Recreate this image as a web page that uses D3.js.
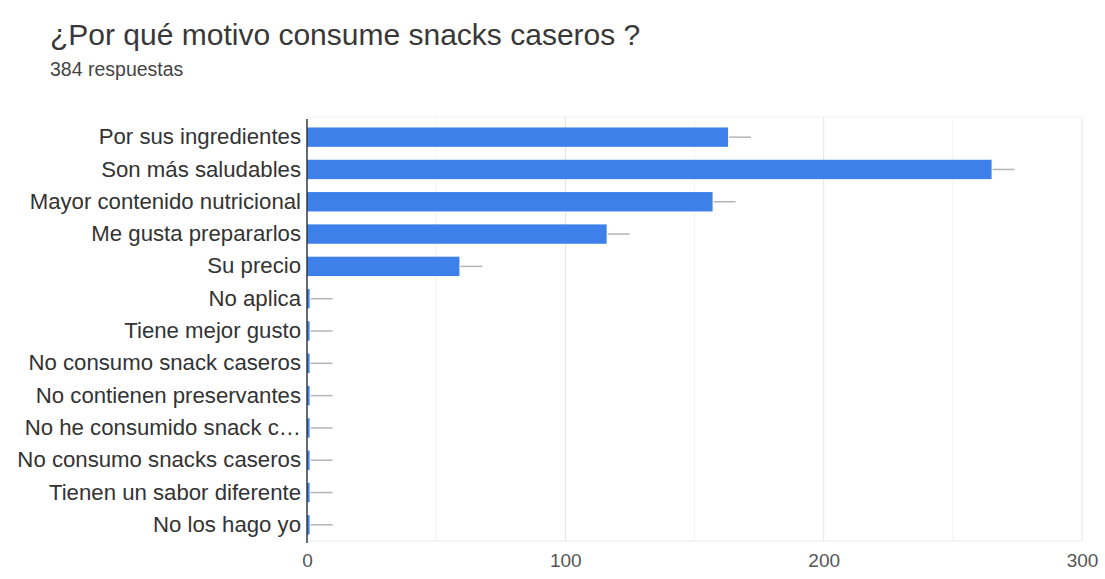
<!DOCTYPE html>
<html lang="es">
<head>
<meta charset="utf-8">
<script src="https://cdn.jsdelivr.net/npm/d3@7"></script>
<style>
  html, body { margin: 0; padding: 0; background: #ffffff; }
  svg { display: block; font-family: "Liberation Sans", Arial, Helvetica, sans-serif; }
</style>
</head>
<body>
<svg id="chart" width="1105" height="579"></svg>
<script>
// Responses per reason (multiple choice allowed)
const categories = [
  "Por sus ingredientes",
  "Son más saludables",
  "Mayor contenido nutricional",
  "Me gusta prepararlos",
  "Su precio",
  "No aplica",
  "Tiene mejor gusto",
  "No consumo snack caseros",
  "No contienen preservantes",
  "No he consumido snack c…",
  "No consumo snacks caseros",
  "Tienen un sabor diferente",
  "No los hago yo"
];
const counts = [163, 265, 157, 116, 59, 1, 1, 1, 1, 1, 1, 1, 1];
const majorTicks = [0, 100, 200, 300];
const minorTicks = [50, 150, 250];

const title = "¿Por qué motivo consume snacks caseros ?";
const subtitle = "384 respuestas";

const svg = d3.select("#chart");
const plotTop = 117, plotBottom = 541;

const x = d3.scaleLinear().domain([0, 300]).range([307, 1082]);
const y = d3.scaleBand().domain(categories)
  .range([121, 541])
  .paddingInner(0.4).paddingOuter(0.2);

// Header
svg.append("text").attr("x", 50).attr("y", 45)
  .attr("font-size", 30).attr("fill", "#383838").text(title);
svg.append("text").attr("x", 50).attr("y", 76)
  .attr("font-size", 19.5).attr("fill", "#444444").text(subtitle);

// Gridlines
svg.append("g").selectAll("line").data(minorTicks).join("line")
  .attr("x1", d => x(d)).attr("x2", d => x(d))
  .attr("y1", plotTop).attr("y2", plotBottom)
  .attr("stroke", "#f3f3f3").attr("stroke-width", 1);
svg.append("g").selectAll("line").data(majorTicks.slice(1)).join("line")
  .attr("x1", d => x(d)).attr("x2", d => x(d))
  .attr("y1", plotTop).attr("y2", plotBottom)
  .attr("stroke", "#e4e4e4").attr("stroke-width", 1);
// top and bottom frame lines
svg.append("line").attr("x1", x(0)).attr("x2", x(300))
  .attr("y1", plotTop).attr("y2", plotTop)
  .attr("stroke", "#f0f0f0");
svg.append("line").attr("x1", x(0)).attr("x2", x(300))
  .attr("y1", plotBottom).attr("y2", plotBottom)
  .attr("stroke", "#ececec");

// Bars
svg.append("g").selectAll("rect").data(counts).join("rect")
  .attr("x", x(0))
  .attr("y", (d, i) => y(categories[i]))
  .attr("width", d => x(d) - x(0))
  .attr("height", y.bandwidth())
  .attr("fill", "#3d80ea");

// Short grey stems after each bar
svg.append("g").selectAll("line").data(counts).join("line")
  .attr("x1", d => x(d) + 1)
  .attr("x2", d => x(d) + 23)
  .attr("y1", (d, i) => y(categories[i]) + y.bandwidth() / 2)
  .attr("y2", (d, i) => y(categories[i]) + y.bandwidth() / 2)
  .attr("stroke", "#b5b5b5").attr("stroke-width", 1.5);

// Category axis
const yAxis = d3.axisLeft(y).tickSize(0).tickPadding(6);
const gy = svg.append("g").attr("transform", `translate(${x(0)},0)`).call(yAxis);
gy.select(".domain").remove();
gy.selectAll("text").attr("font-size", 22.2).attr("fill", "#333333")
  .style("font-family", "'Liberation Sans', Arial, Helvetica, sans-serif");
svg.append("line").attr("x1", x(0)).attr("x2", x(0))
  .attr("y1", plotTop + 2).attr("y2", plotBottom + 2)
  .attr("stroke", "#333a45").attr("stroke-width", 1.5);

// Value axis
const xAxis = d3.axisBottom(x).tickValues(majorTicks).tickSize(0).tickPadding(13);
const gx = svg.append("g").attr("transform", `translate(0,${plotBottom})`).call(xAxis);
gx.select(".domain").remove();
gx.selectAll("text").attr("font-size", 19).attr("fill", "#555555")
  .style("font-family", "'Liberation Sans', Arial, Helvetica, sans-serif");
</script>
</body>
</html>
